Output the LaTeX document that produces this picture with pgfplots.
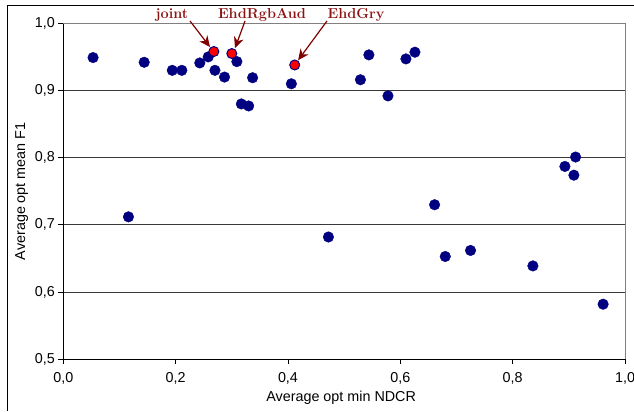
\documentclass[border=0pt]{standalone}
\usepackage{fontspec}
\setsansfont{Liberation Sans}
\usepackage{pgfplots}
\pgfplotsset{compat=1.18}
\usetikzlibrary{arrows.meta}
\definecolor{navy}{RGB}{0,0,128}
\definecolor{annot}{RGB}{140,20,20}
\definecolor{arrowred}{RGB}{128,0,0}
\begin{document}
\begin{tikzpicture}[x=1bp,y=1bp]
\useasboundingbox (-63.3,-51.7) rectangle (570.7,359.3);
\fill[white] (-63.3,-51.7) rectangle (570.7,359.3);
\draw[black, line width=1bp] (-55.3,-51.7) -- (-55.3,354) -- (570.7,354);
\begin{axis}[
  at={(0,0)}, anchor=origin,
  scale only axis,
  width=561.7bp, height=336bp,
  xmin=0, xmax=1, ymin=0.5, ymax=1,
  xtick={0,0.2,0.4,0.6,0.8,1.0},
  ytick={0.5,0.6,0.7,0.8,0.9,1.0},
  axis lines=left,
  axis line style={-, black, line width=0.9bp},
  tick align=outside,
  major tick length=5bp,
  tick style={black, line width=0.9bp},
  ymajorgrids,
  major grid style={draw=black!78, line width=0.9bp},
  /pgf/number format/assume math mode=true,
  /pgf/number format/.cd, fixed, fixed zerofill, precision=1, use comma,
  /pgfplots/.cd,
  ticklabel style={font=\sffamily\fontsize{14.4}{16}\selectfont},
  xticklabel style={yshift=-5bp},
  label style={font=\sffamily\fontsize{14.4}{16}\selectfont},
  xlabel={Average opt min NDCR},
  ylabel={Average opt mean F1},
  xlabel style={xshift=-3bp, yshift=0bp},
  ylabel style={yshift=0bp},
  clip=false,
]
\draw[black!50, line width=0.9bp] (axis cs:0,1) -- (axis cs:1,1) -- (axis cs:1,0.5);
\addplot[only marks, mark=*, mark size=5.3bp, mark options={fill=navy, draw=navy}] coordinates {
(0.053,0.949)
(0.116,0.712)
(0.144,0.942)
(0.194,0.930)
(0.211,0.930)
(0.243,0.941)
(0.258,0.950)
(0.270,0.930)
(0.287,0.920)
(0.309,0.943)
(0.317,0.880)
(0.330,0.877)
(0.337,0.919)
(0.406,0.910)
(0.472,0.682)
(0.529,0.916)
(0.544,0.953)
(0.578,0.892)
(0.610,0.947)
(0.626,0.957)
(0.661,0.730)
(0.680,0.653)
(0.725,0.662)
(0.836,0.639)
(0.893,0.787)
(0.909,0.774)
(0.912,0.801)
(0.961,0.582)
};
\addplot[only marks, mark=*, mark size=5bp, mark options={fill=red, draw=navy, line width=1bp}] coordinates {
(0.268,0.958)
(0.300,0.955)
(0.412,0.938)
};
\node[anchor=base, text=annot, font=\rmfamily\bfseries\fontsize{14.5}{16}\selectfont] at (axis cs:0.1935,1.0074) {joint};
\node[anchor=base, text=annot, font=\rmfamily\bfseries\fontsize{14.5}{16}\selectfont] at (axis cs:0.3538,1.0074) {EhdRgbAud};
\node[anchor=base, text=annot, font=\rmfamily\bfseries\fontsize{14.5}{16}\selectfont] at (axis cs:0.5211,1.0074) {EhdGry};
\draw[arrowred, line width=1.2bp, -{Stealth[length=11bp,width=10bp]}] (axis cs:0.2256,1.0034) -- (axis cs:0.2612,0.9647);
\draw[arrowred, line width=1.2bp, -{Stealth[length=11bp,width=10bp]}] (axis cs:0.3235,1.0034) -- (axis cs:0.3057,0.9630);
\draw[arrowred, line width=1.2bp, -{Stealth[length=11bp,width=10bp]}] (axis cs:0.4694,1.0034) -- (axis cs:0.4180,0.9450);
\end{axis}
\end{tikzpicture}
\end{document}
